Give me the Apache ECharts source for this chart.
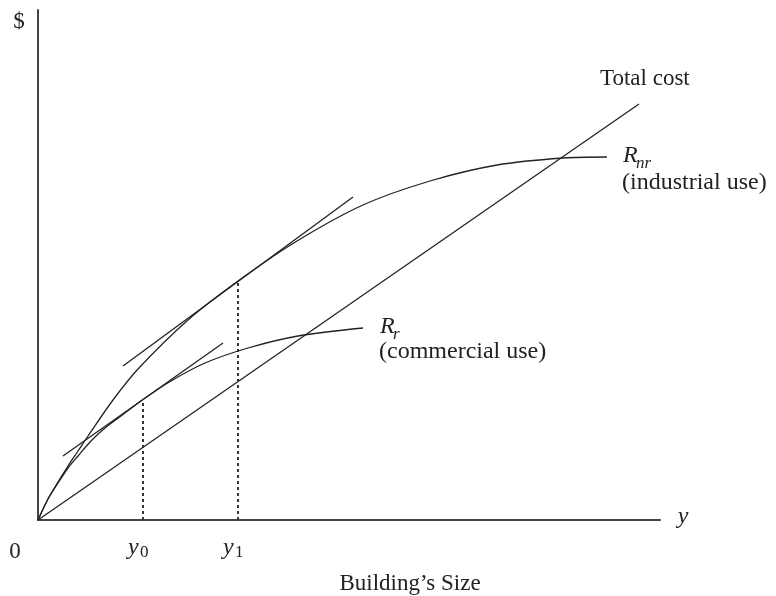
<!DOCTYPE html>
<html><head><meta charset="utf-8">
<script src="https://cdn.jsdelivr.net/npm/echarts@6/dist/echarts.min.js"></script>
<style>html,body{margin:0;padding:0;background:#fff}#c{width:776px;height:596px}</style>
</head><body><div id="c"></div>
<script>
// ---- data (chart units) ----
const totalCost = [[0, 0], [601, 416]];
const rNonRes = [[0,0],[10,21],[20,38],[30,54],[40,69],[50,84],[75,120],[100,151],[150,200],[200,239],[259,279],[325,315],[392,339],[459,355],[525,362],[569,363]];
const rRes = [[0,0],[10,21],[20,37],[30,52],[40,64],[53,79],[67,92],[83,104],[105,120.5],[133,139],[167,157],[210,172],[260,184],[325,192]];
const rNonResTangent = [[85, 154], [315, 323]];
const rResTangent = [[25, 64], [185, 177]];
const y0Drop = [[105, 0], [105, 121]];
const y1Drop = [[200, 0], [200, 239]];
const tickValues = [105, 200];
const tickSubs = ['0', '1'];
const xMax = 622, yMax = 510;

const FONT = '"Liberation Serif", "Times New Roman", serif';
const chart = echarts.init(document.getElementById('c'), null, {renderer: 'canvas'});
const lineStyle = {color: '#222', width: 1.3};
function lineSeries(data, extra) {
  return Object.assign({type: 'line', data: data, symbol: 'none', lineStyle: lineStyle, silent: true, animation: false}, extra || {});
}
chart.setOption({
  animation: false,
  backgroundColor: '#fff',
  grid: {left: 38, right: 116, top: 10, bottom: 76},
  xAxis: {type: 'value', min: 0, max: xMax, splitLine: {show: false}, axisTick: {show: false}, axisLabel: {show: false},
    axisLine: {show: true, lineStyle: {color: '#444', width: 2}}},
  yAxis: {type: 'value', min: 0, max: yMax, splitLine: {show: false}, axisTick: {show: false}, axisLabel: {show: false},
    axisLine: {show: true, lineStyle: {color: '#444', width: 2}}},
  series: [
    lineSeries(totalCost),
    lineSeries(rNonRes, {smooth: 0.3}),
    lineSeries(rRes, {smooth: 0.3}),
    lineSeries(rNonResTangent),
    lineSeries(rResTangent),
    lineSeries(y0Drop, {lineStyle: {color: '#333', width: 2, type: [3, 3]}}),
    lineSeries(y1Drop, {lineStyle: {color: '#333', width: 2, type: [3, 3]}})
  ]
});

function px(p) { return chart.convertToPixel({gridIndex: 0}, p); }
function txt(text, x, y, size, opts) {
  return {type: 'text', x: x, y: y, silent: true,
    style: Object.assign({text: text, font: (opts && opts.italic ? 'italic ' : '') + size + 'px ' + FONT, fill: '#222',
      textAlign: (opts && opts.align) || 'left', textVerticalAlign: 'middle'}, (opts && opts.style) || {})};
}
const els = [];
const o = px([0, 0]);
els.push(txt('$', 19, 22, 23, {align: 'center'}));
els.push(txt('0', o[0] - 23, o[1] + 32, 23, {align: 'center'}));
const xEnd = px([xMax, 0]);
els.push(txt('y', xEnd[0] + 23, xEnd[1] - 3, 24, {align: 'center', italic: true}));
els.push(txt('Building\u2019s Size', 410, 584, 23, {align: 'center'}));
const tcEnd = px(totalCost[totalCost.length - 1]);
els.push(txt('Total cost', tcEnd[0] - 39, tcEnd[1] - 25, 23));
tickValues.forEach(function (v, i) {
  const p = px([v, 0]);
  els.push(txt('y', p[0] - 15, p[1] + 28, 24, {italic: true}));
  els.push(txt(tickSubs[i], p[0] - 3, p[1] + 33, 17));
});
const nrEnd = px(rNonRes[rNonRes.length - 1]);
els.push(txt('R', nrEnd[0] + 16, nrEnd[1] - 1, 24, {italic: true}));
els.push(txt('nr', nrEnd[0] + 29, nrEnd[1] + 7, 17, {italic: true}));
els.push(txt('(industrial use)', nrEnd[0] + 15, nrEnd[1] + 26, 24));
const rEnd = px(rRes[rRes.length - 1]);
els.push(txt('R', rEnd[0] + 17, rEnd[1] - 1, 24, {italic: true}));
els.push(txt('r', rEnd[0] + 30, rEnd[1] + 7, 17, {italic: true}));
els.push(txt('(commercial use)', rEnd[0] + 16, rEnd[1] + 24, 24));
chart.setOption({graphic: {elements: els}});
</script></body></html>
